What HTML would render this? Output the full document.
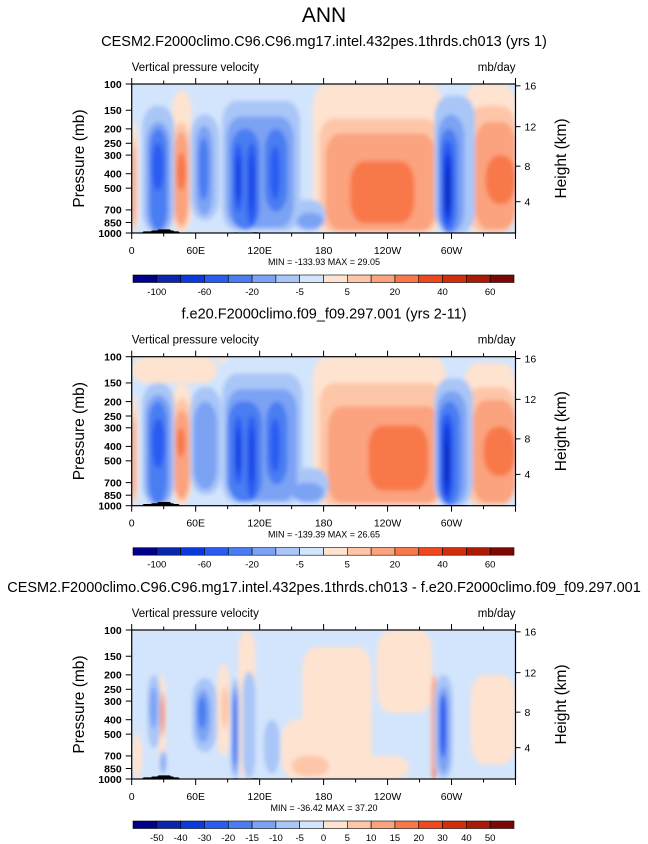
<!DOCTYPE html>
<html><head><meta charset="utf-8">
<style>
html,body{margin:0;padding:0;background:#fff;overflow:hidden;}
svg{display:block;font-family:"Liberation Sans",Arial,sans-serif;}
</style></head>
<body>
<svg id="fig" width="648" height="844" viewBox="0 0 648 844" xmlns="http://www.w3.org/2000/svg">
<defs>
<filter id="bl" x="-20%" y="-20%" width="140%" height="140%"><feGaussianBlur stdDeviation="2.2"/></filter>
</defs>
<text x="324" y="22" text-anchor="middle" font-size="21">ANN</text>
</svg>
<script>
// ---------- data ----------
var colors16 = ["#00008a","#0a26ac","#0a3ade","#2a5cf2","#4a7df2","#7ba2f4","#a9c6f7","#d3e5fc",
                "#fee3d0","#fdc6a8","#fba27e","#f8784a","#f0481e","#d22e0c","#ac1a06","#7c0804"];
var cbLabels1 = ["-100","-60","-20","-5","5","20","40","60"];
var cbLabels3 = ["-50","-40","-30","-20","-15","-10","-5","0","5","10","15","20","30","40","50"];
var lonTicks = [0,60,120,180,240,300];
var lonLabels = ["0","60E","120E","180","120W","60W"];
var pTicks = [100,150,200,250,300,400,500,700,850,1000];
var zTicks = [4,8,12,16];
var titles = ["CESM2.F2000climo.C96.C96.mg17.intel.432pes.1thrds.ch013 (yrs 1)",
              "f.e20.F2000climo.f09_f09.297.001 (yrs 2-11)",
              "CESM2.F2000climo.C96.C96.mg17.intel.432pes.1thrds.ch013 - f.e20.F2000climo.f09_f09.297.001"];
var minmax = ["MIN = -133.93  MAX =  29.05","MIN = -139.39  MAX =  26.65","MIN = -36.42  MAX =  37.20"];
// blobs: [lon0, lon1, pTop, pBottom, colorIndex]
var field1 = [
 [170,292,100,1000,8],[312,360,100,1000,8],[38,56,110,1000,8],[0,6,180,1000,8],
 [176,288,170,990,9],[316,360,140,990,9],[39,54,180,950,9],[0,4,220,950,9],
 [182,285,215,960,10],[322,360,180,950,10],[40,53,210,880,10],[0,4,260,900,10],
 [205,265,330,860,11],[332,360,300,640,11],[42,51,290,520,11],
 [10,40,140,1000,6],[55,82,160,820,6],[85,158,130,960,6],[150,182,600,960,6],[284,322,120,1000,6],
 [14,36,180,1000,5],[60,76,190,760,5],[89,152,165,920,5],[155,180,730,940,5],[287,312,160,1000,5],
 [17,33,200,960,4],[63,72,230,600,4],[93,120,200,950,4],[125,146,200,720,4],[289,306,200,1000,4],
 [19,30,250,520,3],[96,104,250,720,3],[108,117,250,900,3],[130,139,260,600,3],[291,302,240,920,3],
 [98,102,300,620,2],[111,114,300,720,2],[293,300,290,820,2],
 [295,298,350,720,1]
];
var field2 = [
 [0,80,100,150,8],[170,295,100,1000,8],[80,90,100,110,8],[312,360,110,1000,8],[38,56,150,1000,8],[0,6,180,1000,8],
 [176,292,150,990,9],[314,360,160,990,9],[39,55,190,950,9],[0,4,220,950,9],
 [184,290,215,960,10],[320,360,195,960,10],[40,54,230,900,10],[0,4,260,900,10],
 [222,278,290,790,11],[330,360,295,630,11],[42,50,300,470,11],
 [10,40,150,1000,6],[55,84,160,840,6],[85,160,130,960,6],[150,185,560,960,6],[284,320,140,1000,6],
 [13,37,180,1000,5],[58,80,200,780,5],[89,155,165,930,5],[150,180,700,940,5],[286,314,170,1000,5],
 [16,33,200,960,4],[90,122,200,940,4],[126,146,200,720,4],[288,308,200,1000,4],
 [19,31,260,560,3],[96,104,250,720,3],[108,117,250,900,3],[130,139,260,600,3],[290,302,240,950,3],
 [98,102,300,620,2],[111,114,300,720,2],[292,299,280,860,2],
 [294,297,360,720,1]
];
var field3 = [
 [160,225,130,1000,8],[140,175,400,1000,8],[80,92,170,700,8],[100,116,100,1000,8],[230,282,100,360,8],
 [318,360,200,800,8],[0,10,500,1000,8],[25,32,200,900,8],[195,260,700,1000,8],
 [27,31,260,520,10],[84,91,240,460,9],[150,185,700,950,9],[281,286,200,1000,10],
 [28,30,300,450,11],[283,285,850,1000,12],
 [15,27,200,620,6],[57,80,210,660,6],[93,101,210,1000,6],[104,116,190,1000,6],[124,139,400,920,6],
 [284,301,200,1000,6],[26,33,640,920,6],
 [17,24,240,460,5],[60,74,250,570,5],[94,100,240,920,5],[287,298,240,920,5],[28,31,680,900,5],
 [62,70,280,460,4],[95,99,270,820,4],[289,295,270,720,3]
];
var topo = [[10,45,975],[18,40,962],[24,37,945],[95,100,990],[112,120,988],[290,316,992]];
// ---------- drawing ----------
(function(){
var svg = document.getElementById('fig');
var NS = "http://www.w3.org/2000/svg";
var X0 = 131.7, X1 = 515.5;
var panelTops = [84, 356.7, 630];
var H = 149;
function mk(tag, attrs, parent){var e=document.createElementNS(NS,tag);for(var k in attrs)e.setAttribute(k,attrs[k]);(parent||svg).appendChild(e);return e;}
function xOf(lon){return X0 + lon/360*(X1-X0);}
function yOf(t0,p){return t0 + (Math.log10(p)-2)*H;}
function pOfZ(z){var m=z*1000; if(m<=11000) return 1013.25*Math.pow(1-2.25577e-5*m,5.25588); return 226.32*Math.exp(-(m-11000)/6341.6);}
var fields=[field1,field2,field3];
for(var i=0;i<3;i++){
  var pTop=panelTops[i], bot=pTop+H;
  var t=mk('text',{x:324,y:pTop-38,'text-anchor':'middle','font-size':14.5});
  t.textContent=titles[i];
  
  
  var s=mk('text',{x:X0,y:pTop-13,'font-size':11.5}); s.textContent="Vertical pressure velocity";
  
  
  var u=mk('text',{x:X1,y:pTop-13,'font-size':11.5,'text-anchor':'end'}); u.textContent="mb/day";
  
  
  var g=mk('g',{});
  
  
  var cp=mk('clipPath',{id:'c'+i},g); mk('rect',{x:X0,y:pTop,width:X1-X0,height:H},cp);
  var inner=mk('g',{'clip-path':'url(#c'+i+')'},g);
  mk('rect',{x:X0,y:pTop,width:X1-X0,height:H,fill:colors16[7]},inner);
  var fg=mk('g',{filter:'url(#bl)'},inner);
  fields[i].forEach(function(b){
    var x=xOf(b[0]), w=xOf(b[1])-x, y=yOf(pTop,b[2]), h=yOf(pTop,b[3])-y;
    var r=mk('rect',{x:x,y:y,width:w,height:h,rx:Math.min(w/2,14),ry:Math.min(h/2,22),fill:colors16[b[4]]},fg);
    
    
  });
  topo.forEach(function(b){
    var x=xOf(b[0]), w=xOf(b[1])-x, y=yOf(pTop,b[2]);
    var r=mk('rect',{x:x,y:y,width:w,height:bot-y+3,rx:2,fill:'#000'},inner);
    
    
  });
  mk('rect',{x:X0,y:pTop,width:X1-X0,height:H,fill:'none',stroke:'#000','stroke-width':1.2},g);
  for(var lon=0;lon<=360;lon+=30){
    var major=lon%60==0, xx=xOf(lon), L=major?6:3.5;
    mk('line',{x1:xx,x2:xx,y1:bot,y2:bot+L,stroke:'#000'},g);
    mk('line',{x1:xx,x2:xx,y1:pTop,y2:pTop-L,stroke:'#000'},g);
  }
  lonTicks.forEach(function(l,k){
    var tl=mk('text',{x:xOf(l),y:bot+21,'text-anchor':'middle','font-size':10.5}); tl.textContent=lonLabels[k];
    
    
  });
  pTicks.forEach(function(p){
    var yy=yOf(pTop,p);
    mk('line',{x1:X0-6,x2:X0,y1:yy,y2:yy,stroke:'#000'},g);
    var tl=mk('text',{x:X0-10,y:yy+3.8,'text-anchor':'end','font-size':10.5,'font-weight':'bold'}); tl.textContent=p;
    
    
  });
  zTicks.forEach(function(z){
    var yy=yOf(pTop,pOfZ(z));
    mk('line',{x1:X1,x2:X1+5,y1:yy,y2:yy,stroke:'#000'},g);
    var tl=mk('text',{x:X1+9,y:yy+3.8,'font-size':10.5}); tl.textContent=z;
    
    
  });
  var yl=mk('text',{x:0,y:0,'font-size':15.5,'text-anchor':'middle',transform:'translate(84,'+(pTop+H/2)+') rotate(-90)'}); yl.textContent="Pressure (mb)";
  
  
  var zl=mk('text',{x:0,y:0,'font-size':15.5,'text-anchor':'middle',transform:'translate(566,'+(pTop+H/2)+') rotate(-90)'}); zl.textContent="Height (km)";
  
  
  var mm=mk('text',{x:324,y:bot+32,'text-anchor':'middle','font-size':9}); mm.textContent=minmax[i];
  
  
  var cb=mk('g',{});
  
  
  var cx0=133, cx1=514, cy=bot+42, bw=(cx1-cx0)/16;
  for(var k=0;k<16;k++){
    var r=mk('rect',{x:cx0+k*bw,y:cy,width:bw,height:7.5,fill:colors16[k],stroke:'#000','stroke-width':0.6},cb);
    
    
  }
  var labs = i<2 ? cbLabels1 : cbLabels3;
  labs.forEach(function(lb,k){
    var idx = i<2 ? (2*k+1) : (k+1);
    var tl=mk('text',{x:cx0+idx*bw,y:cy+20,'text-anchor':'middle','font-size':9.5},cb); tl.textContent=lb;
    
    
  });
}
})();
</script>
</body></html>
